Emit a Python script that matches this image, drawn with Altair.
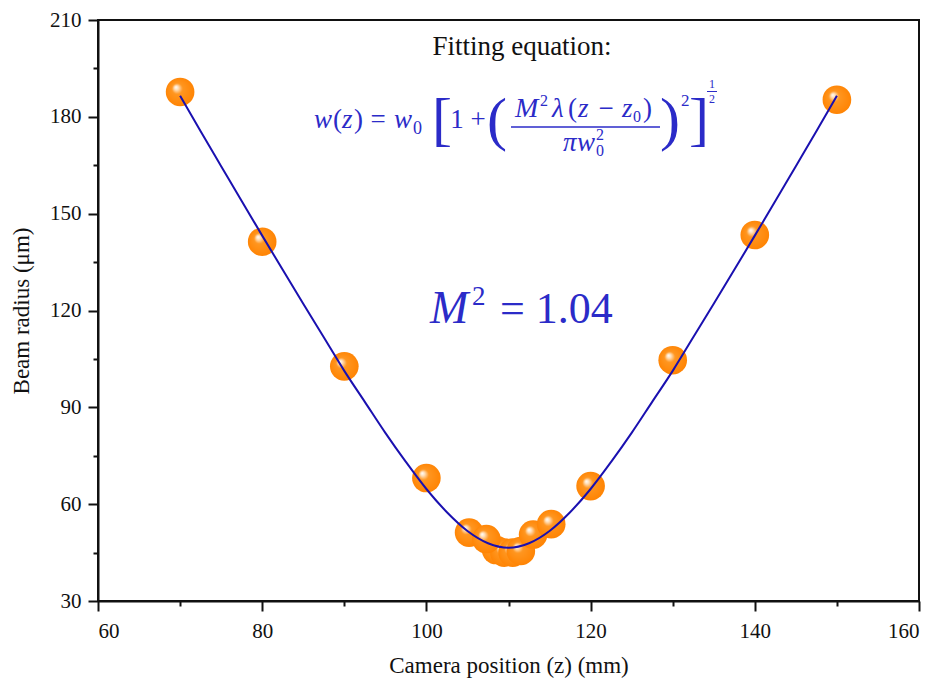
import altair as alt
import pandas as pd

# ---- data ----
pos_z = [70, 80, 90, 100, 108.5, 109.5, 110.5, 111.5, 105.2, 107.3, 113.0, 115.2, 120, 130, 140, 150]
radius = [187.7, 141.3, 102.7, 68.1, 45.8, 45.0, 45.0, 45.5, 51.2, 49.2, 50.6, 53.8, 65.6, 104.6, 143.4, 185.3]

fit_z = [70, 72.5, 75, 77.5, 80, 82.5, 85, 87.5, 90, 92.5, 95, 97.5, 100, 102.5, 105, 107.5,
         110, 112.5, 115, 117.5, 120, 122.5, 125, 127.5, 130, 132.5, 135, 137.5, 140, 142.5,
         145, 147.5, 150]
fit_w = [186.5, 175.5, 164.7, 153.9, 143.2, 132.6, 122.1, 111.7, 101.3, 91.7, 82.1, 73.1, 64.7,
         57.5, 51.7, 47.9, 46.5, 47.9, 51.7, 57.5, 64.7, 73.1, 82.1, 91.7, 101.3, 111.7, 122.1,
         132.6, 143.2, 153.9, 164.7, 175.5, 186.5]

x_ticks = [60, 70, 80, 90, 100, 110, 120, 130, 140, 150, 160]
y_ticks = [30, 45, 60, 75, 90, 105, 120, 135, 150, 165, 180, 195, 210]

pts = pd.DataFrame({"z": pos_z, "w": radius})
fit = pd.DataFrame({"z": fit_z, "w": fit_w})

SERIF = "Liberation Serif"
BLUE_TXT = "#2b2bc8"
OX, OY = 98, 20  # plot origin in page pixels

xs = alt.Scale(domain=[60, 160], nice=False, zero=False)
ys = alt.Scale(domain=[30, 210], nice=False, zero=False)

x_axis = alt.Axis(
    values=x_ticks, title="Camera position (z) (mm)",
    labelExpr="datum.value % 20 == 0 ? datum.label : ''",
    tickSize={"condition": {"test": "datum.value % 20 == 0", "value": 10}, "value": 5},
    labelPadding=9, titlePadding=13,
)
y_axis = alt.Axis(
    values=y_ticks, title="Beam radius (\u03bcm)",
    labelExpr="datum.value % 30 == 0 ? datum.label : ''",
    tickSize={"condition": {"test": "datum.value % 30 == 0", "value": 10}, "value": 5},
    labelPadding=7, titlePadding=16,
)

sphere = alt.RadialGradient(
    gradient="radial",
    stops=[
        alt.GradientStop(offset=0.0, color="#ffffff"),
        alt.GradientStop(offset=0.13, color="#ffe0bc"),
        alt.GradientStop(offset=0.34, color="#ff9620"),
        alt.GradientStop(offset=1.0, color="#ff8200"),
    ],
    x1=0.35, y1=0.33, r1=0.0, x2=0.5, y2=0.5, r2=0.55,
)

points = alt.Chart(pts).mark_point(
    filled=True, size=820, shape="circle", fill=sphere, opacity=1, strokeWidth=0
).encode(
    x=alt.X("z:Q", scale=xs, axis=x_axis),
    y=alt.Y("w:Q", scale=ys, axis=y_axis),
)

line = alt.Chart(fit).mark_line(
    color="#1a10b0", strokeWidth=2, interpolate="monotone"
).encode(x=alt.X("z:Q", scale=xs), y=alt.Y("w:Q", scale=ys))


def txt(text, x, y, size, color=BLUE_TXT, style="normal", align="left", baseline="alphabetic"):
    return alt.Chart(pd.DataFrame({"a": [0]})).mark_text(
        text=text, font=SERIF, fontSize=size, fontStyle=style, color=color,
        align=align, baseline=baseline,
    ).encode(x=alt.value(x - OX), y=alt.value(y - OY))


def bar(x1, x2, y, width=1.4):
    return alt.Chart(pd.DataFrame({"a": [0]})).mark_rule(
        color=BLUE_TXT, strokeWidth=width
    ).encode(x=alt.value(x1 - OX), x2=alt.value(x2 - OX), y=alt.value(y - OY))


I = "italic"
eq = [
    txt("Fitting equation:", 522, 47, 27, color="#111111", align="center", baseline="middle"),
    # left-hand side
    txt("w", 314, 128, 27, style=I),
    txt("(", 333, 128, 27),
    txt("z", 342, 128, 27, style=I),
    txt(")", 354, 128, 27),
    txt("=", 378, 128, 27, align="center"),
    txt("w", 394, 128, 27, style=I),
    txt("0", 413, 134, 18),
    txt("[", 442, 139, 60, align="center"),
    txt("1", 457, 128, 27, align="center"),
    txt("+", 478, 128, 27, align="center"),
    txt("(", 497, 139, 60, align="center"),
    # numerator
    txt("M", 515, 117, 28, style=I),
    txt("2", 540, 106, 16),
    txt("\u03bb", 552, 117, 27, style=I),
    txt("(", 568, 117, 27),
    txt("z", 578, 117, 27, style=I),
    txt("\u2212", 606, 117, 27, align="center"),
    txt("z", 622, 117, 27, style=I),
    txt("0", 633, 122, 16),
    txt(")", 643, 117, 27),
    bar(511, 660, 127),
    # denominator
    txt("\u03c0", 563, 151, 27, style=I),
    txt("w", 577, 151, 27, style=I),
    txt("0", 596, 156, 16),
    txt("2", 596, 140, 16),
    txt(")", 670, 139, 60, align="center"),
    txt("2", 681, 106, 17),
    txt("]", 699, 139, 60, align="center"),
    txt("1", 712, 88, 12, align="center"),
    bar(707, 717, 91.5, 1.0),
    txt("2", 712, 103, 12, align="center"),
    # M^2 value
    txt("M", 430, 323, 46, style=I),
    txt("2", 472, 305, 27),
    txt("= 1.04", 500, 323, 44),
]

chart = alt.layer(points, line, *eq).properties(
    width=821, height=581,
    autosize=alt.AutoSizeParams(type="none"),
    padding={"left": 90, "top": 12, "right": 12, "bottom": 80},
).configure_view(
    stroke="#111111", strokeWidth=2
).configure_axis(
    labelFont=SERIF, labelFontSize=21, labelColor="#111111",
    titleFont=SERIF, titleFontSize=23, titleColor="#111111", titleFontWeight="normal",
    domainColor="#111111", domainWidth=2, tickColor="#111111", tickWidth=2, grid=False,
)

chart.save("out.html", embed_options={"renderer": "svg", "actions": False})
